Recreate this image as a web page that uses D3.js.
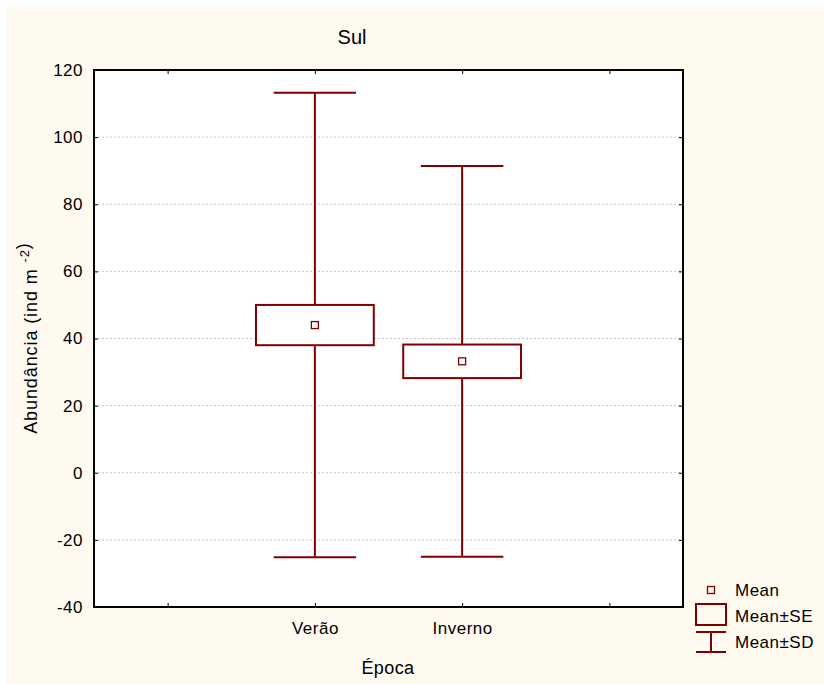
<!DOCTYPE html>
<html>
<head>
<meta charset="utf-8">
<script src="https://cdn.jsdelivr.net/npm/d3@7/dist/d3.min.js"></script>
<style>
  html, body { margin: 0; padding: 0; background: #ffffff; }
  svg { display: block; }
  text { font-family: "Liberation Sans", Arial, sans-serif; fill: #000; }
</style>
</head>
<body>
<svg id="chart" width="824" height="684"></svg>
<script>
// Seasonal abundance summary (mean, standard error, standard deviation)
const categories = ["Verão", "Inverno"];
const categoryPos = [2, 3];
const means = [44.0, 33.2];
const se = [6.0, 5.0];
const sd = [69.2, 58.2];
const yTicks = [-40, -20, 0, 20, 40, 60, 80, 100, 120];
const xTickPos = [1, 2, 3, 4];
const legendLabels = ["Mean", "Mean±SE", "Mean±SD"];

const RED = "#800000";
const svg = d3.select("#chart");

// page background
svg.append("rect").attr("x", 7).attr("y", 7).attr("width", 817).attr("height", 677)
  .attr("fill", "#fffaf0");

const plotL = 94, plotR = 683, plotT = 70, plotB = 607;
const x = d3.scaleLinear().domain([0.5, 4.5]).range([plotL, plotR]);
const y = d3.scaleLinear().domain([-40, 120]).range([plotB, plotT]);

// plot area
svg.append("rect").attr("x", plotL).attr("y", plotT)
  .attr("width", plotR - plotL).attr("height", plotB - plotT).attr("fill", "#fff");

// dotted gridlines
svg.append("g").selectAll("line")
  .data(yTicks.filter(v => v > -40 && v < 120))
  .join("line")
  .attr("x1", plotL).attr("x2", plotR)
  .attr("y1", d => y(d)).attr("y2", d => y(d))
  .attr("stroke", "#c4c4c4").attr("stroke-width", 1)
  .attr("stroke-dasharray", "2,2");

// axes with inward ticks
const styleLabels = sel => sel.style("font-size", "17px").style("letter-spacing", "0.5px")
  .style("font-family", '"Liberation Sans", Arial, sans-serif').attr("fill", "#000");

const yAxis = svg.append("g").attr("transform", `translate(${plotL},0)`)
  .call(d3.axisLeft(y).tickValues(yTicks).tickSize(-4).tickPadding(11).tickFormat(d => String(d)));
yAxis.select(".domain").remove();
yAxis.selectAll("text").call(styleLabels);
yAxis.selectAll("line").attr("stroke", "#000");

const yAxisR = svg.append("g").attr("transform", `translate(${plotR},0)`)
  .call(d3.axisRight(y).tickValues(yTicks).tickSize(-4).tickFormat(""));
yAxisR.select(".domain").remove();
yAxisR.selectAll("line").attr("stroke", "#000");

const labelFor = p => { const i = categoryPos.indexOf(p); return i >= 0 ? categories[i] : ""; };
const xAxis = svg.append("g").attr("transform", `translate(0,${plotB})`)
  .call(d3.axisBottom(x).tickValues(xTickPos).tickSize(-4).tickPadding(15).tickFormat(labelFor));
xAxis.select(".domain").remove();
xAxis.selectAll("text").call(styleLabels);
xAxis.selectAll("line").attr("stroke", "#000");

const xAxisT = svg.append("g").attr("transform", `translate(0,${plotT})`)
  .call(d3.axisTop(x).tickValues(xTickPos).tickSize(-4).tickFormat(""));
xAxisT.select(".domain").remove();
xAxisT.selectAll("line").attr("stroke", "#000");

// frame
svg.append("rect").attr("x", plotL).attr("y", plotT)
  .attr("width", plotR - plotL).attr("height", plotB - plotT)
  .attr("fill", "none").attr("stroke", "#000").attr("stroke-width", 2);

// box-and-whisker marks
const boxHalf = 0.4, capHalf = 0.28;
const groups = svg.append("g").selectAll("g")
  .data(categories.map((c, i) => ({ c, p: categoryPos[i], m: means[i], se: se[i], sd: sd[i] })))
  .join("g");

groups.append("line")
  .attr("x1", d => x(d.p)).attr("x2", d => x(d.p))
  .attr("y1", d => y(d.m + d.sd)).attr("y2", d => y(d.m - d.sd))
  .attr("stroke", RED).attr("stroke-width", 2);
groups.each(function(d) {
  const g = d3.select(this);
  [d.m + d.sd, d.m - d.sd].forEach(v => {
    g.append("line")
      .attr("x1", x(d.p - capHalf)).attr("x2", x(d.p + capHalf))
      .attr("y1", y(v)).attr("y2", y(v))
      .attr("stroke", RED).attr("stroke-width", 2);
  });
});
groups.append("rect")
  .attr("x", d => x(d.p - boxHalf)).attr("width", d => x(d.p + boxHalf) - x(d.p - boxHalf))
  .attr("y", d => y(d.m + d.se)).attr("height", d => y(d.m - d.se) - y(d.m + d.se))
  .attr("fill", "#fff").attr("stroke", RED).attr("stroke-width", 2);
groups.append("rect")
  .attr("x", d => x(d.p) - 3.5).attr("y", d => y(d.m) - 3.5)
  .attr("width", 7).attr("height", 7)
  .attr("fill", "#fff").attr("stroke", RED).attr("stroke-width", 1.3);

// titles
svg.append("text").attr("x", 352).attr("y", 44).attr("text-anchor", "middle")
  .style("font-size", "20px").text("Sul");
svg.append("text").attr("x", 388).attr("y", 674).attr("text-anchor", "middle")
  .style("font-size", "18px").style("letter-spacing", "0.4px").text("Época");
const yl = svg.append("text").attr("transform", "translate(37,338) rotate(-90)")
  .attr("text-anchor", "middle").style("font-size", "18px").style("letter-spacing", "0.9px");
yl.append("tspan").text("Abundância (ind m ");
yl.append("tspan").attr("dy", -8).style("font-size", "13px").text("  -2");
yl.append("tspan").attr("dy", 0).text(")");

// legend
const lg = svg.append("g").attr("transform", "translate(711,0)");
lg.append("rect").attr("x", -3.5).attr("y", 586.5).attr("width", 7).attr("height", 7)
  .attr("fill", "none").attr("stroke", RED).attr("stroke-width", 1.3);
lg.append("rect").attr("x", -15).attr("y", 604).attr("width", 30).attr("height", 21)
  .attr("fill", "none").attr("stroke", RED).attr("stroke-width", 2);
[[-15, 15, 632, 632], [-15, 15, 652, 652], [0, 0, 632, 652]].forEach(s => {
  lg.append("line").attr("x1", s[0]).attr("x2", s[1]).attr("y1", s[2]).attr("y2", s[3])
    .attr("stroke", RED).attr("stroke-width", 2);
});
lg.selectAll("text.lab").data(legendLabels).join("text").attr("class", "lab")
  .attr("x", 24).attr("y", (d, i) => [596, 622, 648][i])
  .style("font-size", "17px").style("letter-spacing", "0.5px").text(d => d);
</script>
</body>
</html>
